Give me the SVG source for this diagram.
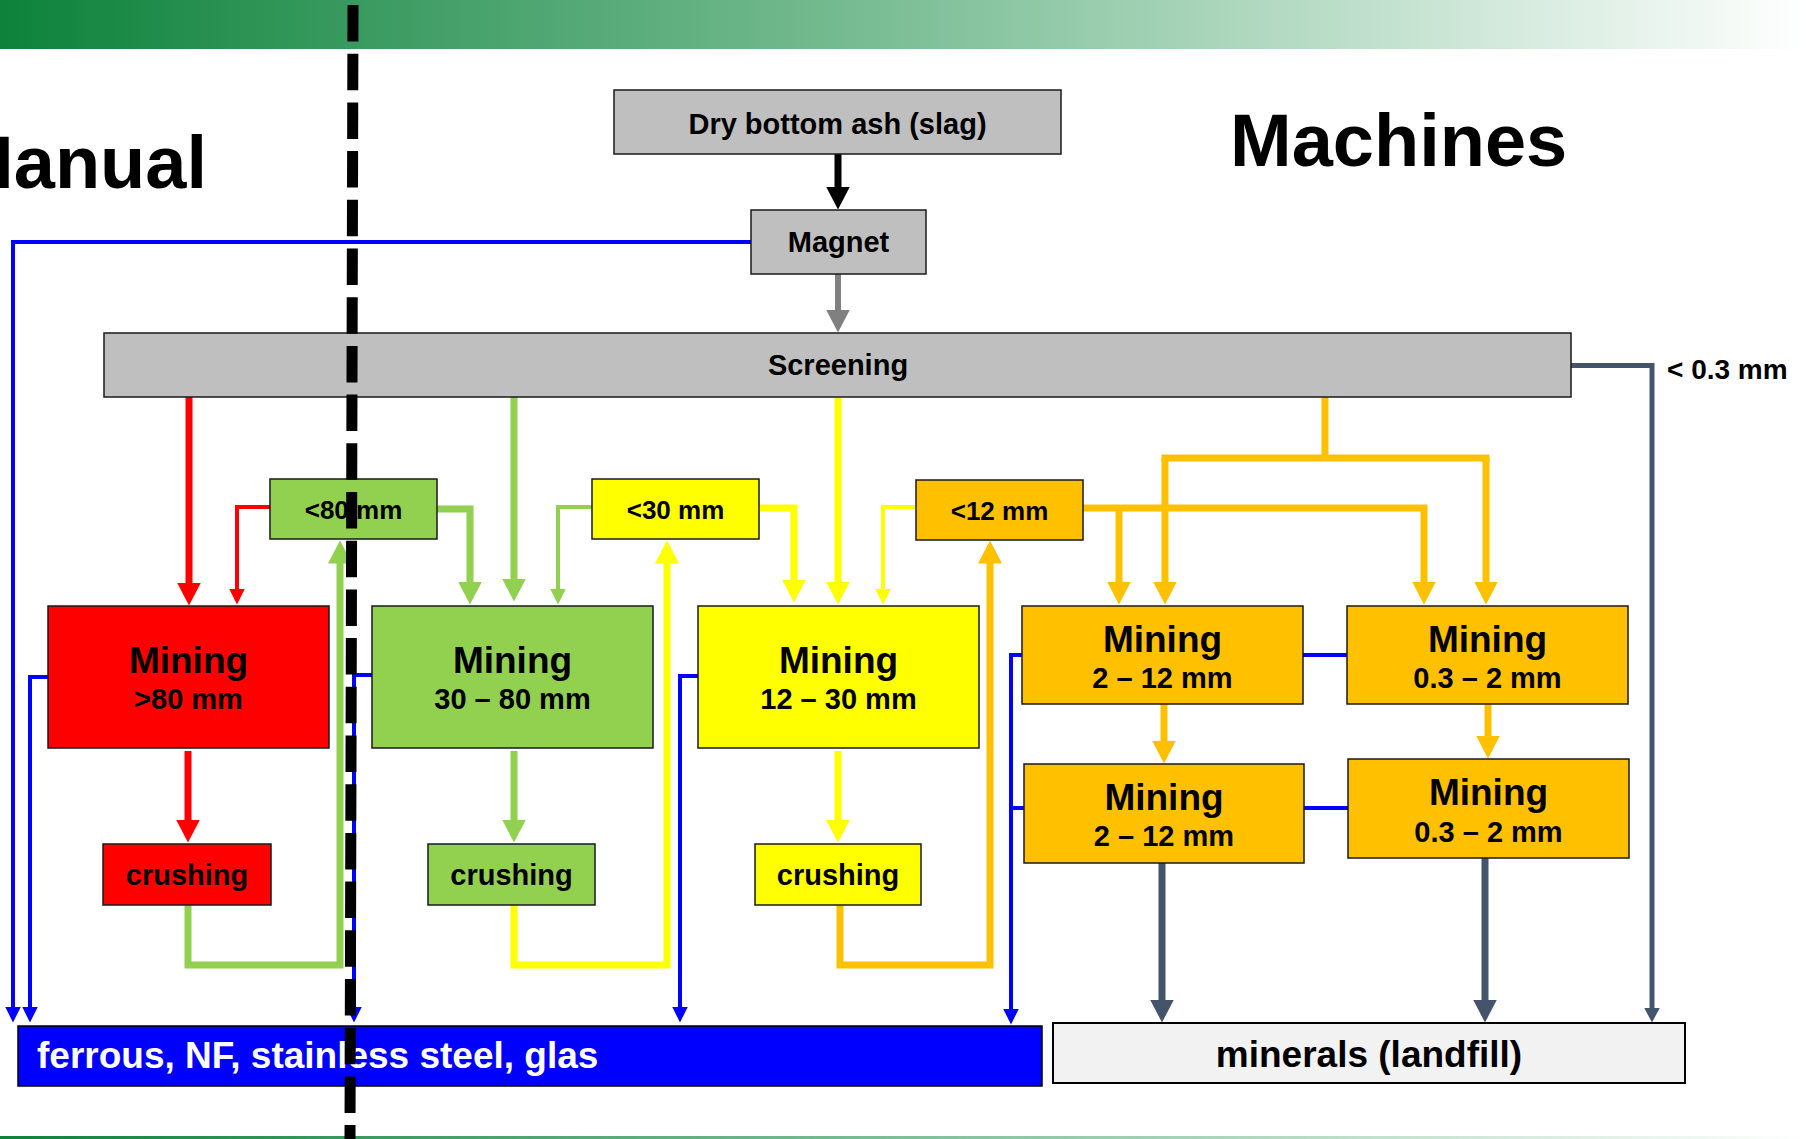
<svg xmlns="http://www.w3.org/2000/svg" width="1806" height="1139" viewBox="0 0 1806 1139">
<defs>
<linearGradient id="hdr" x1="0" y1="0" x2="1" y2="0">
<stop offset="0" stop-color="#0d823b"/>
<stop offset="0.5" stop-color="#7dbf97"/>
<stop offset="1" stop-color="#ffffff"/>
</linearGradient>
<marker id="aK" markerUnits="userSpaceOnUse" markerWidth="23" markerHeight="24" viewBox="0 0 23 24" refX="0.5" refY="12" orient="auto"><path d="M0,0 L23,12 L0,24 z" style="fill:#000"/></marker>
<marker id="aG" markerUnits="userSpaceOnUse" markerWidth="23" markerHeight="24" viewBox="0 0 23 24" refX="0.5" refY="12" orient="auto"><path d="M0,0 L23,12 L0,24 z" style="fill:#808080"/></marker>
<marker id="aR" markerUnits="userSpaceOnUse" markerWidth="23" markerHeight="24" viewBox="0 0 23 24" refX="0.5" refY="12" orient="auto"><path d="M0,0 L23,12 L0,24 z" style="fill:#ff0000"/></marker>
<marker id="aL" markerUnits="userSpaceOnUse" markerWidth="23" markerHeight="24" viewBox="0 0 23 24" refX="0.5" refY="12" orient="auto"><path d="M0,0 L23,12 L0,24 z" style="fill:#92d050"/></marker>
<marker id="aY" markerUnits="userSpaceOnUse" markerWidth="23" markerHeight="24" viewBox="0 0 23 24" refX="0.5" refY="12" orient="auto"><path d="M0,0 L23,12 L0,24 z" style="fill:#ffff00"/></marker>
<marker id="aO" markerUnits="userSpaceOnUse" markerWidth="23" markerHeight="24" viewBox="0 0 23 24" refX="0.5" refY="12" orient="auto"><path d="M0,0 L23,12 L0,24 z" style="fill:#ffc000"/></marker>
<marker id="aS" markerUnits="userSpaceOnUse" markerWidth="23" markerHeight="24" viewBox="0 0 23 24" refX="0.5" refY="12" orient="auto"><path d="M0,0 L23,12 L0,24 z" style="fill:#44546a"/></marker>
<marker id="sR" markerUnits="userSpaceOnUse" markerWidth="16" markerHeight="16" viewBox="0 0 16 16" refX="0.5" refY="8" orient="auto"><path d="M0,0 L16,8 L0,16 z" style="fill:#ff0000"/></marker>
<marker id="sL" markerUnits="userSpaceOnUse" markerWidth="16" markerHeight="16" viewBox="0 0 16 16" refX="0.5" refY="8" orient="auto"><path d="M0,0 L16,8 L0,16 z" style="fill:#92d050"/></marker>
<marker id="sY" markerUnits="userSpaceOnUse" markerWidth="16" markerHeight="16" viewBox="0 0 16 16" refX="0.5" refY="8" orient="auto"><path d="M0,0 L16,8 L0,16 z" style="fill:#ffff00"/></marker>
<marker id="sB" markerUnits="userSpaceOnUse" markerWidth="16" markerHeight="16" viewBox="0 0 16 16" refX="0.5" refY="8" orient="auto"><path d="M0,0 L16,8 L0,16 z" style="fill:#0000ff"/></marker>
<marker id="sS" markerUnits="userSpaceOnUse" markerWidth="15" markerHeight="16" viewBox="0 0 15 16" refX="0.5" refY="8" orient="auto"><path d="M0,0 L15,8 L0,16 z" style="fill:#44546a"/></marker>
</defs>
<style>
text{font-family:"Liberation Sans",Arial,sans-serif;font-weight:bold;fill:#000}
.t{font-size:29px;text-anchor:middle}
.s{font-size:26px;text-anchor:middle}
.m{font-size:37px;text-anchor:middle}
.big{font-size:74px}
.box{stroke:#1a1a1a;stroke-width:1.5}
.gray{fill:#bfbfbf}
.red{fill:#ff0000}
.grn{fill:#92d050}
.yel{fill:#ffff00}
.org{fill:#ffc000}
#connectors path{fill:none}
.k{stroke:#000;stroke-width:7}
.g{stroke:#808080;stroke-width:6}
.R{stroke:#ff0000;stroke-width:7}
.L{stroke:#92d050;stroke-width:7}
.Y{stroke:#ffff00;stroke-width:7}
.O{stroke:#ffc000;stroke-width:7}
.S{stroke:#44546a;stroke-width:7}
.rt{stroke:#ff0000;stroke-width:4}
.lt{stroke:#92d050;stroke-width:4}
.yt{stroke:#ffff00;stroke-width:4}
.B{stroke:#0000ff;stroke-width:4}
.st{stroke:#44546a;stroke-width:5}
</style>
<rect x="0" y="0" width="1806" height="49" fill="url(#hdr)"/>
<rect x="0" y="1136" width="1806" height="3" fill="url(#hdr)"/>
<text class="big" x="207" y="188" text-anchor="end">Manual</text>
<text class="big" x="1230" y="166">Machines</text>
<text x="1667" y="379" style="font-size:28px">&lt; 0.3 mm</text>
<g id="connectors">
<path class="k" d="M838,154 V187" marker-end="url(#aK)"/>
<path class="g" d="M838,274 V310" marker-end="url(#aG)"/>
<path class="B" d="M751,242 H13 V1007" marker-end="url(#sB)"/>
<path class="st" d="M1571,365.5 H1652 V1008" marker-end="url(#sS)"/>
<path class="R" d="M189,397 V583" marker-end="url(#aR)"/>
<path class="L" d="M514,397 V579" marker-end="url(#aL)"/>
<path class="Y" d="M838,397 V582" marker-end="url(#aY)"/>
<path class="O" d="M1325,397 V458"/>
<path class="O" d="M1161.5,458 H1489.5"/>
<path class="O" d="M1165,458 V582" marker-end="url(#aO)"/>
<path class="O" d="M1486,458 V582" marker-end="url(#aO)"/>
<path class="O" d="M1083,508 H1424 V582" marker-end="url(#aO)"/>
<path class="O" d="M1119,508 V582" marker-end="url(#aO)"/>
<path class="rt" d="M270,507 H237 V589" marker-end="url(#sR)"/>
<path class="L" d="M437,509 H470 V582" marker-end="url(#aL)"/>
<path class="lt" d="M592,507 H558 V589" marker-end="url(#sL)"/>
<path class="Y" d="M759,508 H794 V580" marker-end="url(#aY)"/>
<path class="yt" d="M916,507 H883 V589" marker-end="url(#sY)"/>
<path class="R" d="M188,751 V820" marker-end="url(#aR)"/>
<path class="L" d="M514,751 V820" marker-end="url(#aL)"/>
<path class="Y" d="M838,751 V820" marker-end="url(#aY)"/>
<path class="L" d="M188,905 V965 H340 V563" marker-end="url(#aL)"/>
<path class="Y" d="M514,905 V965 H667 V563" marker-end="url(#aY)"/>
<path class="O" d="M840,905 V965 H990 V563" marker-end="url(#aO)"/>
<path class="B" d="M48,677 H30 V1007" marker-end="url(#sB)"/>
<path class="B" d="M372,675 H354 V1007" marker-end="url(#sB)"/>
<path class="B" d="M698,676 H680 V1007" marker-end="url(#sB)"/>
<path class="B" d="M1022,655 H1011 V1009" marker-end="url(#sB)"/>
<path class="B" d="M1024,808 H1011"/>
<path class="B" d="M1303,655 H1347"/>
<path class="B" d="M1304,808 H1348"/>
<path class="O" d="M1164,704 V741" marker-end="url(#aO)"/>
<path class="O" d="M1488,704 V736" marker-end="url(#aO)"/>
<path class="S" d="M1162,863 V1000" marker-end="url(#aS)"/>
<path class="S" d="M1485,858 V1000" marker-end="url(#aS)"/>
</g>
<g id="dry"><rect class="box gray" x="614" y="90" width="447" height="64"/><text class="t" x="837.5" y="134">Dry bottom ash (slag)</text></g>
<g id="magnet"><rect class="box gray" x="751" y="210" width="175" height="64"/><text class="t" x="838.5" y="252">Magnet</text></g>
<g id="screening"><rect class="box gray" x="104" y="333" width="1467" height="64"/><text class="t" x="838" y="375">Screening</text></g>
<g id="lt80"><rect class="box grn" x="270" y="479" width="167" height="60"/><text class="s" x="353.5" y="519">&lt;80 mm</text></g>
<g id="lt30"><rect class="box yel" x="592" y="479" width="167" height="60"/><text class="s" x="675.5" y="519">&lt;30 mm</text></g>
<g id="lt12"><rect class="box org" x="916" y="480" width="167" height="60"/><text class="s" x="999.5" y="520">&lt;12 mm</text></g>
<g id="mining80"><rect class="box red" x="48" y="606" width="281" height="142"/><text class="m" x="188.5" y="673">Mining</text><text class="t" x="188.5" y="709">&gt;80 mm</text></g>
<g id="mining30-80"><rect class="box grn" x="372" y="606" width="281" height="142"/><text class="m" x="512.5" y="673">Mining</text><text class="t" x="512.5" y="709">30 – 80 mm</text></g>
<g id="mining12-30"><rect class="box yel" x="698" y="606" width="281" height="142"/><text class="m" x="838.5" y="673">Mining</text><text class="t" x="838.5" y="709">12 – 30 mm</text></g>
<g id="mining2-12a"><rect class="box org" x="1022" y="606" width="281" height="98"/><text class="m" x="1162.5" y="652">Mining</text><text class="t" x="1162.5" y="688">2 – 12 mm</text></g>
<g id="mining03-2a"><rect class="box org" x="1347" y="606" width="281" height="98"/><text class="m" x="1487.5" y="652">Mining</text><text class="t" x="1487.5" y="688">0.3 – 2 mm</text></g>
<g id="mining2-12b"><rect class="box org" x="1024" y="764" width="280" height="99"/><text class="m" x="1164" y="810">Mining</text><text class="t" x="1164" y="846">2 – 12 mm</text></g>
<g id="mining03-2b"><rect class="box org" x="1348" y="759" width="281" height="99"/><text class="m" x="1488.5" y="805">Mining</text><text class="t" x="1488.5" y="842">0.3 – 2 mm</text></g>
<g id="crush-red"><rect class="box red" x="103" y="844" width="168" height="61"/><text class="t" x="187" y="885">crushing</text></g>
<g id="crush-grn"><rect class="box grn" x="428" y="844" width="167" height="61"/><text class="t" x="511.5" y="885">crushing</text></g>
<g id="crush-yel"><rect class="box yel" x="755" y="844" width="166" height="61"/><text class="t" x="838" y="885">crushing</text></g>
<g id="ferrous"><rect x="18" y="1026" width="1024" height="60" fill="#0000ff" stroke="#000" stroke-width="1.5"/><text x="37" y="1068" style="font-size:37px;fill:#fff">ferrous, NF, stainless steel, glas</text></g>
<g id="minerals"><rect x="1053" y="1023" width="632" height="60" fill="#f2f2f2" stroke="#000" stroke-width="2"/><text x="1369" y="1067" style="font-size:37px" text-anchor="middle">minerals (landfill)</text></g>
<line x1="353" y1="5" x2="350" y2="1139" stroke="#000" stroke-width="11" stroke-dasharray="36.5 12.2"/>
</svg>
